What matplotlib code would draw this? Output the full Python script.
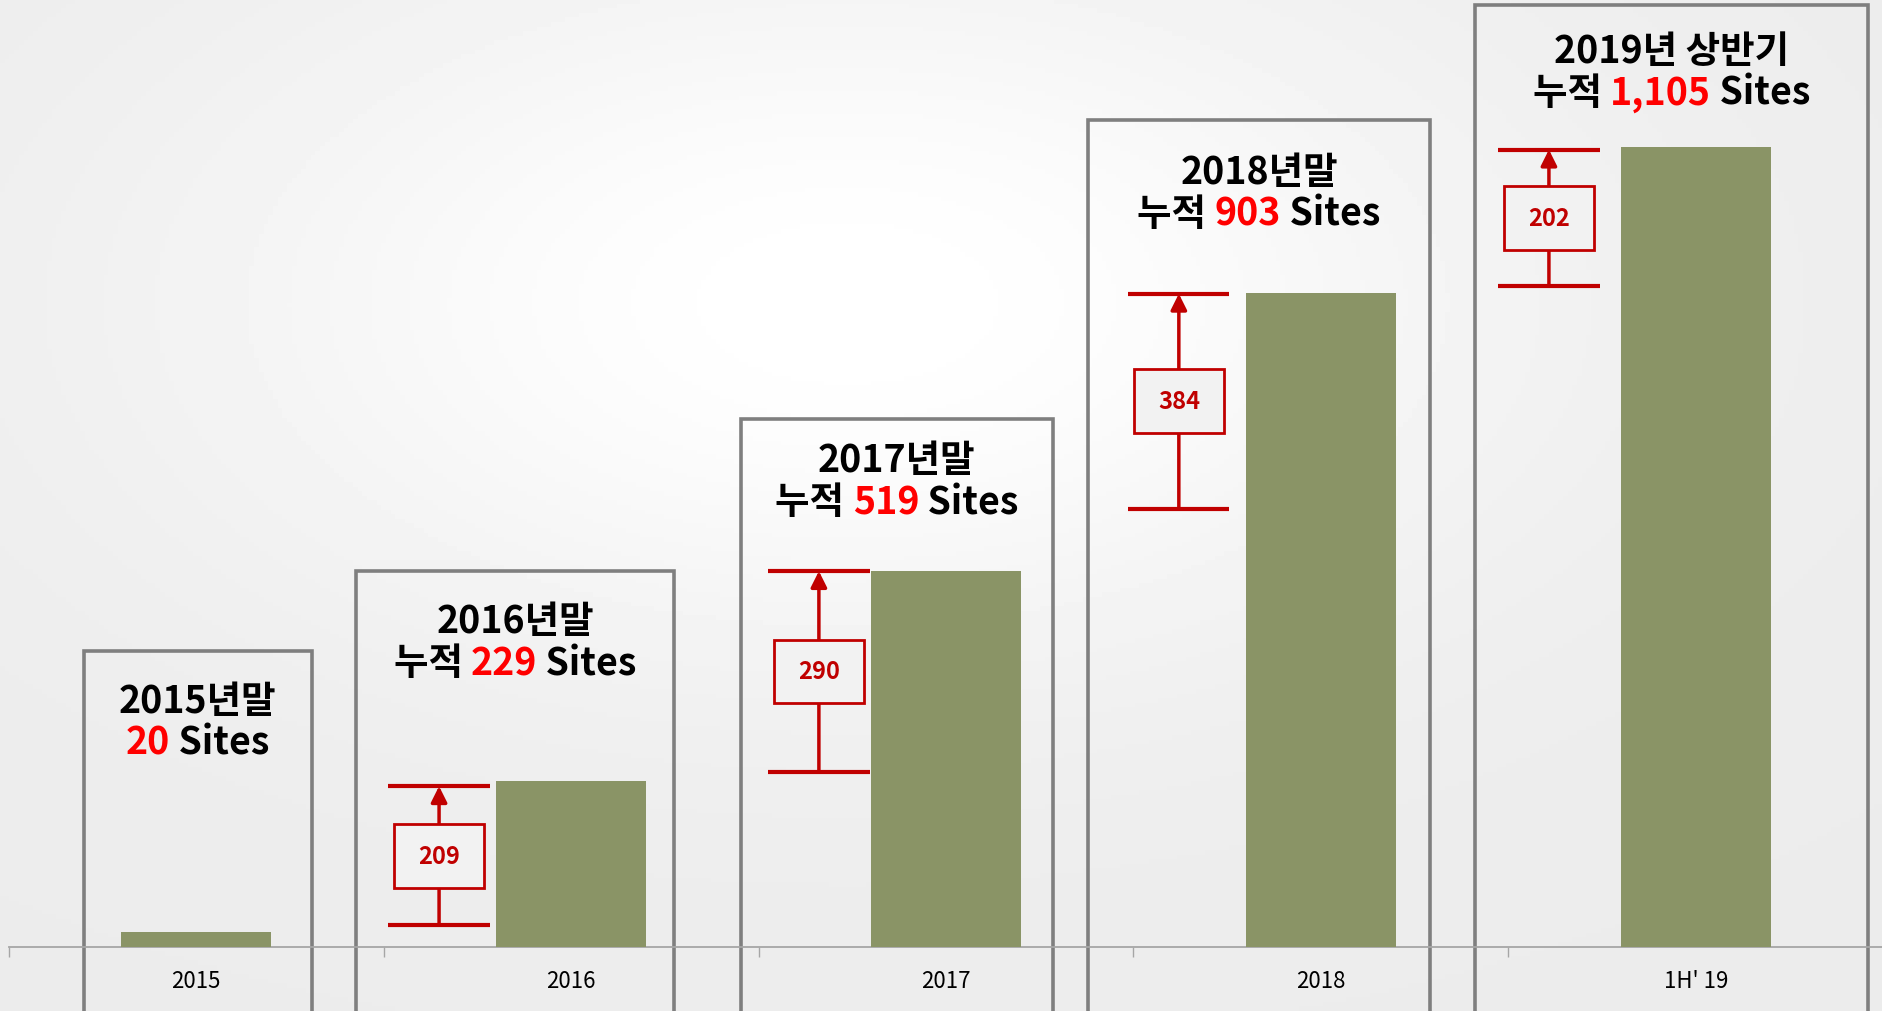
import numpy as np
import matplotlib.pyplot as plt
from matplotlib.patches import Rectangle

plt.rcParams['font.family'] = ['Noto Sans CJK KR', 'DejaVu Sans']

categories = ["2015", "2016", "2017", "2018", "1H' 19"]
sites = [20, 229, 519, 903, 1105]
title_top = ["2015년말", "2016년말", "2017년말", "2018년말", "2019년 상반기"]
title_prefix = ["", "누적 ", "누적 ", "누적 ", "누적 "]
title_num = ["20", "229", "519", "903", "1,105"]
added = ["209", "290", "384", "202"]
# bracket ends (categories 1..4)
bracket_low = [30, 242, 605, 913]
bracket_high = [222, 519, 902, 1101]

# frame boxes: left / right offset from category centre, top value
box_left = [-0.30, -0.573, -0.547, -0.62, -0.59]
box_right = [0.31, 0.275, 0.285, 0.29, 0.46]
box_top = [409, 519, 729, 1142, 1301]
# extra downward shift of the titles inside each frame (pixels)
title_shift = [4, 4, -5, 6, 0]
# bracket centre offset from category centre
bracket_off = [-0.352, -0.339, -0.379, -0.392]

bar_color = '#8a9466'
red = '#ff0000'
dark_red = '#c00000'
frame_gray = '#7f7f7f'

fig = plt.figure(figsize=(18.83, 10.12), dpi=100)

# soft background
bg = fig.add_axes([0, 0, 1, 1], zorder=-5)
gx, gy = np.meshgrid(np.linspace(0, 1, 400), np.linspace(0, 1, 220))
shade = 0.925 + 0.075 * np.exp(-((gx - 0.45) ** 2 / 0.12 + (gy - 0.3) ** 2 / 0.12))
bg.imshow(shade, cmap='gray', vmin=0, vmax=1, aspect='auto', extent=[0, 1, 1, 0])
bg.axis('off')

ax = fig.add_axes([0, 0, 1, 1])
ax.patch.set_alpha(0)
x = np.arange(len(categories))
ax.bar(x, sites, width=0.4, color=bar_color, zorder=3)
ax.set_xlim(-0.523, 4.499)
ax.set_ylim(-88.4, 1309)

for s in ['top', 'right', 'left']:
    ax.spines[s].set_visible(False)
ax.spines['bottom'].set_position(('data', 0))
ax.spines['bottom'].set_color('#a6a6a6')
ax.spines['bottom'].set_linewidth(1.3)
ax.spines['bottom'].set_bounds(-0.5, 4.5)
ax.set_yticks([])
ax.set_xticks(x)
ax.set_xticklabels(categories, fontsize=16)
ax.tick_params(axis='x', which='major', length=0, pad=16, colors='#000000')
ax.set_xticks(np.arange(-0.5, 4, 1), minor=True)
ax.tick_params(axis='x', which='minor', length=7, width=1, color='#a6a6a6', direction='out')

# frames
for i in range(len(categories)):
    ax.add_patch(Rectangle((i + box_left[i], -300), box_right[i] - box_left[i],
                           box_top[i] + 300, fill=False, edgecolor=frame_gray,
                           linewidth=2.6, zorder=2))

renderer = fig.canvas.get_renderer()


def colored_line(xc, ytop, dy_px, pieces, size):
    texts, widths = [], []
    for s, c in pieces:
        t = ax.annotate(s, xy=(xc, ytop), xytext=(0, dy_px), textcoords='offset pixels',
                        ha='left', va='baseline', color=c, fontsize=size,
                        fontweight='heavy', zorder=5)
        widths.append(t.get_window_extent(renderer).width)
        texts.append(t)
    off = -sum(widths) / 2
    for t, w in zip(texts, widths):
        t.xyann = (off, dy_px)
        off += w


for i in range(len(categories)):
    xc = i + (box_left[i] + box_right[i]) / 2
    sh = title_shift[i]
    colored_line(xc, box_top[i], -57 - sh, [(title_top[i], 'black')], 27)
    if title_prefix[i]:
        colored_line(xc, box_top[i], -99 - sh,
                     [(title_prefix[i], 'black'), (title_num[i], red), (' Sites', 'black')], 27)
    else:
        colored_line(xc, box_top[i], -99 - sh, [(title_num[i], red), (' Sites', 'black')], 27)

# increment brackets
for k, lab in enumerate(added):
    i = k + 1
    bx = i + bracket_off[k]
    lo, hi = bracket_low[k], bracket_high[k]
    ax.hlines([lo, hi], bx - 0.135, bx + 0.135, color=dark_red, linewidth=3, zorder=4)
    ax.annotate('', xy=(bx, hi), xytext=(bx, lo),
                arrowprops=dict(arrowstyle='-|>', color=dark_red, lw=2.5,
                                mutation_scale=24, shrinkA=0, shrinkB=0), zorder=4)
    mid = (lo + hi) / 2
    ax.add_patch(Rectangle((bx - 0.12, mid - 44), 0.24, 88, facecolor='#f2f2f2',
                           edgecolor=dark_red, linewidth=2, zorder=5))
    ax.text(bx, mid, lab, ha='center', va='center', color=dark_red, fontsize=17,
            fontweight='bold', zorder=6)

fig.savefig('out.png', dpi=100)
